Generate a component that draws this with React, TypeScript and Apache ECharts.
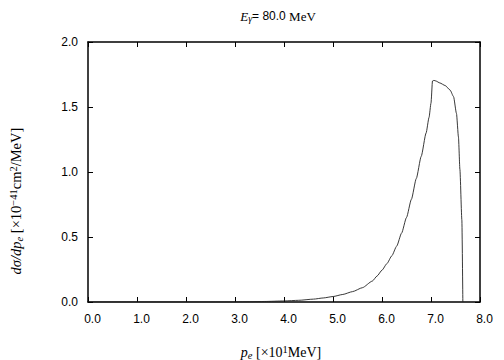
import React, { useEffect, useRef } from "react";
import * as echarts from "echarts";

const pe: number[] = [0, 3.0, 3.3, 3.6, 4.0, 4.3, 4.6, 4.8, 5.0, 5.2, 5.4, 5.6, 5.8, 5.9, 6.0, 6.1, 6.2, 6.3, 6.4, 6.5, 6.6, 6.7, 6.8, 6.9, 6.96, 7.0, 7.03, 7.06, 7.1, 7.18, 7.29, 7.39, 7.46, 7.52, 7.56, 7.59, 7.63, 7.65];
const dsig: number[] = [0, 0, 0.002, 0.004, 0.008, 0.013, 0.022, 0.031, 0.042, 0.058, 0.08, 0.11, 0.16, 0.2, 0.245, 0.295, 0.355, 0.43, 0.53, 0.65, 0.79, 0.95, 1.12, 1.3, 1.42, 1.53, 1.7, 1.705, 1.7, 1.685, 1.665, 1.63, 1.58, 1.45, 1.27, 1.02, 0.63, 0];
const xTicks: string[] = ["0.0", "1.0", "2.0", "3.0", "4.0", "5.0", "6.0", "7.0", "8.0"];
const yTicks: string[] = ["0.0", "0.5", "1.0", "1.5", "2.0"];

const SANS = "Liberation Sans, Arial, sans-serif";
const SERIF = "Liberation Serif, Times New Roman, serif";

export default function App() {
  const ref = useRef<HTMLDivElement>(null);
  useEffect(() => {
    if (!ref.current) return;
    const chart = echarts.init(ref.current, undefined, { renderer: "svg" });
    const axisCommon = {
      type: "value" as const,
      axisLine: { show: true, onZero: false, lineStyle: { color: "#000", width: 1.5 } },
      axisTick: { show: true, inside: true, length: 5, lineStyle: { color: "#000", width: 1 } },
      splitLine: { show: false },
    };
    const sub = { fontFamily: SERIF, fontStyle: "italic", fontSize: 10.5, fill: "#000", verticalAlign: "bottom", padding: [5, 0, 0, 0] };
    const sup = { fontFamily: SERIF, fontSize: 10.5, fill: "#000", verticalAlign: "top", padding: [0, 0, 6, 0] };
    chart.setOption({
      animation: false,
      backgroundColor: "#fff",
      grid: { left: 88, right: 24, top: 42, bottom: 58, containLabel: false },
      xAxis: [
        {
          ...axisCommon,
          min: 0,
          max: 8,
          interval: 1,
          position: "bottom",
          axisLabel: {
            color: "#000",
            fontFamily: SANS,
            fontSize: 12,
            margin: 11,
            padding: [0, 0, 0, 9],
            formatter: (v: number) => xTicks[Math.round(v)] ?? "",
          },
        },
        {
          ...axisCommon,
          min: 0,
          max: 8,
          interval: 1,
          position: "top",
          axisLabel: { show: false },
        },
      ],
      yAxis: [
        {
          ...axisCommon,
          min: 0,
          max: 2,
          interval: 0.5,
          position: "left",
          axisLabel: {
            color: "#000",
            fontFamily: SANS,
            fontSize: 12,
            margin: 10,
            formatter: (v: number) => yTicks[Math.round(v * 2)] ?? "",
          },
        },
        {
          ...axisCommon,
          min: 0,
          max: 2,
          interval: 0.5,
          position: "right",
          axisLabel: { show: false },
        },
      ],
      series: [
        {
          type: "line",
          data: pe.map((x, i) => [x, dsig[i]]),
          showSymbol: false,
          symbol: "none",
          smooth: 0.2,
          smoothMonotone: "x",
          lineStyle: { color: "#222", width: 0.9 },
          silent: true,
        },
      ],
      graphic: [
        {
          type: "text",
          x: 278,
          y: 16,
          style: {
            text: "{e|E}{g|γ}{n|= 80.0 }{m|MeV}",
            align: "center",
            verticalAlign: "middle",
            rich: {
              e: { fontFamily: SERIF, fontStyle: "italic", fontSize: 13, fill: "#000" },
              g: { ...sub, fontSize: 10 },
              n: { fontFamily: SANS, fontSize: 12, fill: "#000" },
              m: { fontFamily: SERIF, fontSize: 13, fill: "#000" },
            },
          },
        },
        {
          type: "text",
          x: 16,
          y: 201,
          rotation: Math.PI / 2,
          style: {
            text: "{i|dσ/dp}{s|e}{n| [×10}{p|−41}{n|cm}{p|2}{n|/MeV]}",
            align: "center",
            verticalAlign: "middle",
            rich: {
              i: { fontFamily: SERIF, fontStyle: "italic", fontSize: 14.5, fill: "#000" },
              s: sub,
              n: { fontFamily: SERIF, fontSize: 14.5, fill: "#000" },
              p: sup,
            },
          },
        },
        {
          type: "text",
          x: 281,
          y: 352,
          style: {
            text: "{i|p}{s|e}{n| [×10}{p|1}{n|MeV]}",
            align: "center",
            verticalAlign: "middle",
            rich: {
              i: { fontFamily: SERIF, fontStyle: "italic", fontSize: 14, fill: "#000" },
              s: sub,
              n: { fontFamily: SERIF, fontSize: 14, fill: "#000" },
              p: sup,
            },
          },
        },
      ],
    });
    return () => chart.dispose();
  }, []);
  return (
    <div
      ref={ref}
      style={{ position: "absolute", left: 0, top: 0, width: 504, height: 360 }}
    />
  );
}
